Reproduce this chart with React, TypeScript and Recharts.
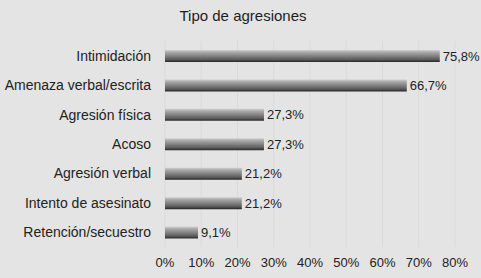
import React from 'react';
import { BarChart, Bar, XAxis, YAxis, CartesianGrid, LabelList } from 'recharts';

const categories = [
  'Intimidación',
  'Amenaza verbal/escrita',
  'Agresión física',
  'Acoso',
  'Agresión verbal',
  'Intento de asesinato',
  'Retención/secuestro',
];
const values = [75.8, 66.7, 27.3, 27.3, 21.2, 21.2, 9.1];
const xTicks = [0, 10, 20, 30, 40, 50, 60, 70, 80];
const title = 'Tipo de agresiones';

const data = categories.map((name, i) => ({ name, value: values[i] }));

const font = '"Liberation Sans", Arial, Helvetica, sans-serif';

export default function App() {
  return (
    <div style={{ position: 'absolute', left: 0, top: 0, width: 481, height: 278, background: '#e4e4e4', fontFamily: font }}>
      <div style={{ position: 'absolute', left: 0, top: 7, width: 486, textAlign: 'center', fontSize: 15, color: '#1e1e1e' }}>
        {title}
      </div>
      <BarChart
        width={481}
        height={278}
        data={data}
        layout="vertical"
        margin={{ top: 41, right: 26, bottom: 11, left: 0 }}
        barCategoryGap={0}
      >
        <defs>
          <linearGradient id="barGrad" x1="0" y1="0" x2="0" y2="1">
            <stop offset="0%" stopColor="#d0d0d0" />
            <stop offset="20%" stopColor="#a8a8a8" />
            <stop offset="55%" stopColor="#7c7c7c" />
            <stop offset="80%" stopColor="#5a5a5a" />
            <stop offset="100%" stopColor="#262626" />
          </linearGradient>
        </defs>
        <CartesianGrid horizontal={false} stroke="#dadada" />
        <XAxis
          type="number"
          domain={[0, 80]}
          ticks={xTicks}
          tickFormatter={(v: number) => `${v}%`}
          axisLine={false}
          tickLine={false}
          tickMargin={5}
          height={20}
          tick={{ fontSize: 13, fill: '#222', fontFamily: font }}
          interval={0}
        />
        <YAxis
          type="category"
          dataKey="name"
          width={165}
          axisLine={false}
          tickLine={false}
          tickMargin={8}
          tick={{ fontSize: 14, fill: '#222', fontFamily: font }}
          interval={0}
        />
        <Bar dataKey="value" fill="url(#barGrad)" barSize={12} isAnimationActive={false}>
          <LabelList
            dataKey="value"
            position="right"
            offset={3}
            formatter={(v: number) => `${String(v).replace('.', ',')}%`}
            style={{ fontSize: 13, fill: '#222', fontFamily: font }}
          />
        </Bar>
      </BarChart>
    </div>
  );
}
